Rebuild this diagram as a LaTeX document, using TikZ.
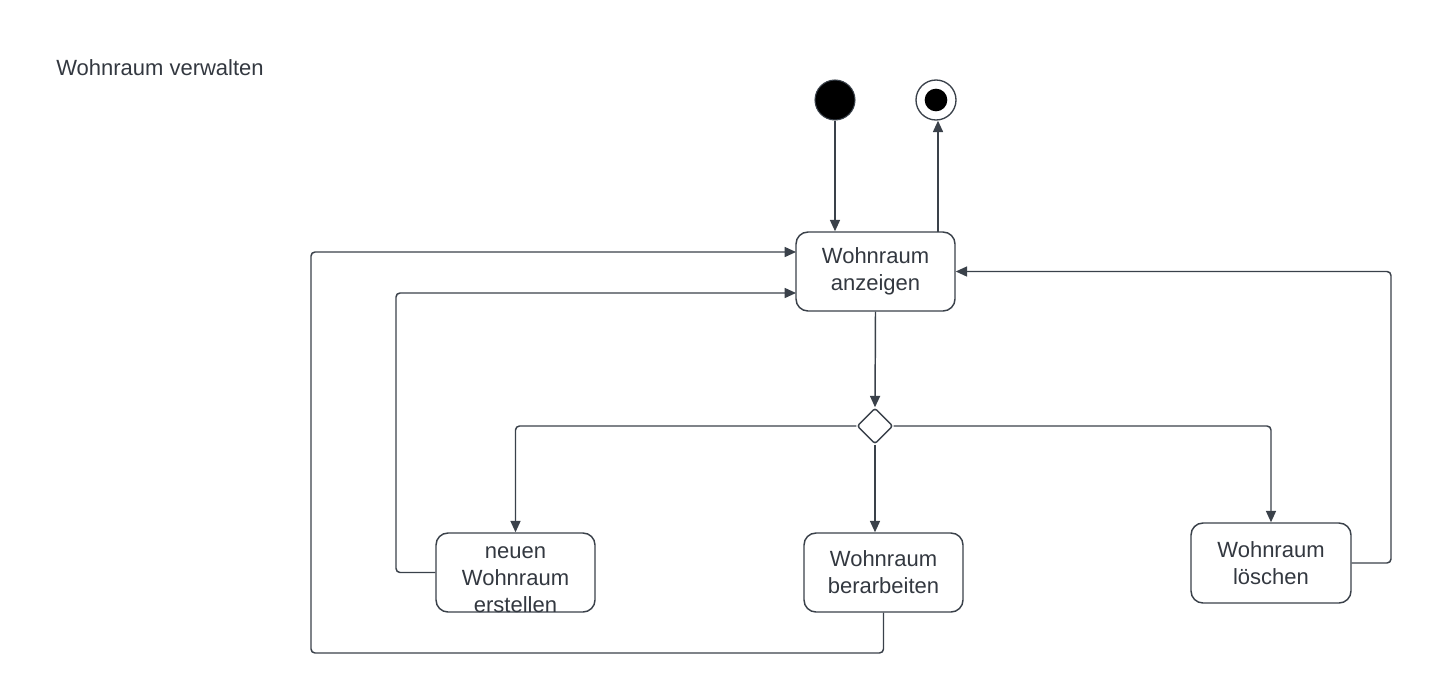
\documentclass[tikz,border=0pt]{standalone}
\usepackage{fontspec}
\setmainfont{Liberation Sans}
\usetikzlibrary{arrows.meta,shapes.geometric,calc}
\definecolor{linec}{RGB}{58,65,74}
\definecolor{textc}{RGB}{51,56,64}
\tikzset{
  state/.style={draw=linec,line width=1.1pt,rounded corners=9pt,minimum width=119.25pt,minimum height=59.25pt,inner sep=0pt,align=center,text=textc,font=\fontsize{16.5}{20.3}\selectfont},
  flow/.style={draw=linec,line width=1.1pt,rounded corners=3pt,-{Triangle[length=8.5pt,width=7.5pt]}},
}
\begin{document}
\begin{tikzpicture}[x=0.75pt,y=-0.75pt]
\useasboundingbox (0,0) rectangle (1432,693);
\node[anchor=west,text=textc,font=\fontsize{16.5}{20}\selectfont,inner sep=0pt] (title) at (56,68) {Wohnraum verwalten};
\node[circle,fill=black,draw=linec,line width=0.8pt,minimum size=30pt,inner sep=0pt] (start) at (835,100) {};
\node[circle,draw=linec,line width=1pt,fill=white,minimum size=30pt,inner sep=0pt] (end) at (936,100) {};
\node[circle,fill=black,minimum size=17pt,inner sep=0pt] (endin) at (936,100) {};
\node[state] (main) at (875.5,271.5) {Wohnraum\\anzeigen};
\node[diamond,draw=linec,line width=1.1pt,rounded corners=2pt,minimum width=27pt,minimum height=27pt,inner sep=0pt,fill=white] (dia) at (875,426) {};
\node[state] (neu) at (515.5,572.5) {};
\node[align=center,text=textc,font=\fontsize{16.5}{20.3}\selectfont,inner sep=0pt] (neutxt) at (515.5,580) {neuen\\Wohnraum\\erstellen};
\node[state] (ber) at (883.5,572.5) {Wohnraum\\berarbeiten};
\node[state,minimum width=120pt,minimum height=60pt] (loe) at (1271,563) {Wohnraum\\löschen};
\coordinate (endfoot) at (938,232);
\coordinate (bl) at (311,653);
\coordinate (nl) at (396,572.5);
\coordinate (lr) at (1391,563);
\coordinate (mainA) at (796,252);
\coordinate (mainB) at (796,293);
\draw[flow] (start) -- (start |- main.north);
\draw[flow] (endfoot) -- (endfoot |- end.south);
\draw[flow] (main.south) -- (dia.north);
\draw[flow] (dia.west) -| (neu.north);
\draw[flow] (dia.south) -- (dia.south |- ber.north);
\draw[flow] (dia.east) -| (loe.north);
\draw[flow] (ber.south) |- (bl) |- (mainA);
\draw[flow] (neu.west) -- (nl) |- (mainB);
\draw[flow] (loe.east) -- (lr) |- (main.east);
\end{tikzpicture}
\end{document}
